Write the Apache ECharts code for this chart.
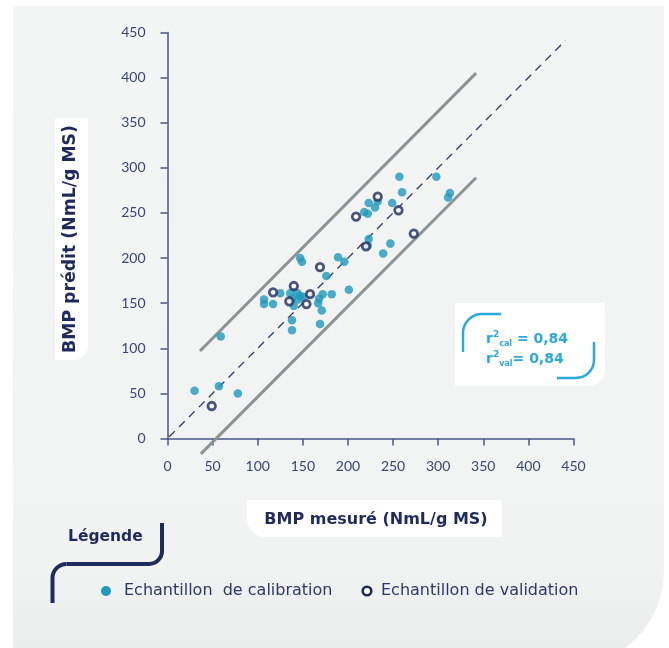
<!DOCTYPE html>
<html>
<head>
<meta charset="utf-8">
<script src="https://cdn.jsdelivr.net/npm/echarts@6/dist/echarts.min.js"></script>
<style>
  html, body { margin: 0; padding: 0; background: #ffffff; }
  #chart { width: 669px; height: 648px; }
</style>
</head>
<body>
<div id="chart"></div>
<script>
// Measured vs predicted BMP (NmL/g MS)
const calibration = [
  [30, 53], [57, 58], [78, 50], [59, 113],
  [107, 154], [107, 149], [117, 149], [125, 161],
  [138, 131], [138, 120], [147, 200], [149, 196],
  [136, 161], [144, 161], [145, 154], [140, 147],
  [150, 157], [147, 158], [138, 155],
  [168, 155], [167, 150], [172, 160], [182, 160], [201, 165],
  [171, 142], [169, 127], [176, 180], [189, 201], [196, 196],
  [257, 290], [298, 290], [260, 273], [313, 272], [311, 267],
  [223, 261], [233, 263], [230, 256], [249, 261],
  [218, 251], [222, 249], [223, 221], [222, 214],
  [247, 216], [239, 205]
];
const validation = [
  [49, 36], [117, 162], [140, 169], [135, 152], [158, 160],
  [154, 149], [169, 190], [233, 268], [209, 246], [256, 253],
  [220, 213], [273, 227]
];
// 1:1 reference and the two prediction-interval bounds
const identityLine = [[-53, -53], [441, 441]];
const upperBound = [[36, 97], [342, 405]];
const lowerBound = [[37, -17], [342, 289]];
const axisTicks = { min: 0, max: 450, step: 50 };

const labels = {
  xTitle: 'BMP mesuré (NmL/g MS)',
  yTitle: 'BMP prédit (NmL/g MS)',
  legendTitle: 'Légende',
  calib: 'Echantillon  de calibration',
  valid: 'Echantillon de validation',
  r2cal: '0,84',
  r2val: '0,84'
};

const NAVY = '#1f2b5e';
const AXIS = '#4a5686';
const TICK_TXT = '#3a4676';
const TEXT = '#2d3868';
const CYAN = '#1e98bd';
const BRIGHT = '#2aa9e0';
const FONT = '"DejaVu Sans", "Open Sans", sans-serif';
const TICK_FONT = 'Lato, "Open Sans", sans-serif';

function axisCommon(margin) {
  return {
    type: 'value',
    min: axisTicks.min,
    max: axisTicks.max,
    interval: axisTicks.step,
    axisLine: { show: true, lineStyle: { color: AXIS, width: 1.5 } },
    axisTick: { show: true, length: 7, lineStyle: { color: AXIS, width: 1.5 } },
    splitLine: { show: false },
    axisLabel: { color: TICK_TXT, fontSize: 14, fontFamily: TICK_FONT, margin: margin }
  };
}

// stroke helpers for the rounded bracket decorations
function seg(x1, y1, x2, y2, color, w) {
  return {
    type: 'line', z: 50, silent: true,
    shape: { x1: x1, y1: y1, x2: x2, y2: y2 },
    style: { stroke: color, lineWidth: w }
  };
}
function corner(cx, cy, r, a0, a1, color, w) {
  return {
    type: 'arc', z: 50, silent: true,
    shape: { cx: cx, cy: cy, r: r, startAngle: a0, endAngle: a1, clockwise: true },
    style: { stroke: color, lineWidth: w, fill: null }
  };
}
const PI = Math.PI;

function r2Text(y, sub, value, gap) {
  return {
    type: 'text', z: 50, silent: true, x: 486, y: y,
    style: {
      text: '{r|r}{sup|2}{sub|' + sub + '}{v|' + gap + '= ' + value + '}',
      textVerticalAlign: 'middle',
      rich: {
        r: { fill: BRIGHT, font: 'bold 14px ' + FONT },
        sup: { fill: BRIGHT, font: 'bold 9px ' + FONT, padding: [0, 0, 8, 0] },
        sub: { fill: BRIGHT, font: 'bold 8px ' + FONT, padding: [10, 0, 0, 0] },
        v: { fill: BRIGHT, font: 'bold 14px ' + FONT }
      }
    }
  };
}

const chart = echarts.init(document.getElementById('chart'), null, { renderer: 'canvas' });

chart.setOption({
  animation: false,
  backgroundColor: '#ffffff',
  grid: { left: 167.5, right: 95.5, top: 32.5, bottom: 209.5 },
  xAxis: axisCommon(21),
  yAxis: axisCommon(22),
  series: [
    {
      type: 'line', data: upperBound, symbol: 'none', clip: false, silent: true, z: 1,
      lineStyle: { color: '#8b9494', width: 3 }
    },
    {
      type: 'line', data: lowerBound, symbol: 'none', clip: false, silent: true, z: 1,
      lineStyle: { color: '#8b9494', width: 3 }
    },
    {
      type: 'line', data: identityLine, symbol: 'none', clip: false, silent: true, z: 1,
      lineStyle: { color: '#2b376a', width: 1.3, type: [8, 6] }
    },
    {
      name: labels.calib, type: 'scatter', data: calibration, symbolSize: 8.5, z: 3,
      itemStyle: { color: CYAN }
    },
    {
      name: labels.valid, type: 'scatter', data: validation, symbolSize: 7.5, z: 4,
      itemStyle: { color: '#ffffff', borderColor: NAVY, borderWidth: 2.8 }
    }
  ],
  graphic: [
    // card background
    {
      type: 'rect', z: -100, silent: true,
      shape: { x: 13, y: 6, width: 651, height: 660, r: [0, 0, 95, 0] },
      style: {
        fill: {
          type: 'linear', x: 0, y: 0, x2: 0, y2: 1,
          colorStops: [
            { offset: 0, color: '#f3f4f4' },
            { offset: 0.85, color: '#f1f2f2' },
            { offset: 1, color: '#e9ebeb' }
          ]
        }
      }
    },
    // y title box
    {
      type: 'rect', z: -50, silent: true,
      shape: { x: 55, y: 118, width: 33, height: 242, r: [0, 0, 14, 0] },
      style: { fill: '#ffffff' }
    },
    {
      type: 'text', z: 50, silent: true,
      x: 71, y: 239, rotation: PI / 2,
      style: {
        text: labels.yTitle, fill: NAVY, font: 'bold 17.3px ' + FONT,
        textAlign: 'center', textVerticalAlign: 'middle'
      }
    },
    // x title box
    {
      type: 'rect', z: -50, silent: true,
      shape: { x: 247, y: 500, width: 255, height: 37, r: [0, 0, 0, 18] },
      style: { fill: '#ffffff' }
    },
    {
      type: 'text', z: 50, silent: true,
      x: 376, y: 520,
      style: {
        text: labels.xTitle, fill: NAVY, font: 'bold 16px ' + FONT,
        textAlign: 'center', textVerticalAlign: 'middle'
      }
    },
    // r² box
    {
      type: 'rect', z: -50, silent: true,
      shape: { x: 455, y: 303, width: 150, height: 83, r: [0, 0, 16, 0] },
      style: { fill: '#ffffff' }
    },
    seg(463, 352, 463, 333, BRIGHT, 2.5),
    corner(482, 333, 19, PI, 1.5 * PI, BRIGHT, 2.5),
    seg(482, 314, 501, 314, BRIGHT, 2.5),
    seg(594, 342, 594, 360, BRIGHT, 2.5),
    corner(576, 360, 18, 0, 0.5 * PI, BRIGHT, 2.5),
    seg(576, 378, 557, 378, BRIGHT, 2.5),
    r2Text(339, 'cal', labels.r2cal, ' '),
    r2Text(359, 'val', labels.r2val, ''),
    // legend
    seg(52.5, 603, 52.5, 578, NAVY, 4),
    corner(66.5, 578, 14, PI, 1.5 * PI, NAVY, 4),
    seg(66.5, 564, 149, 564, NAVY, 4),
    corner(149, 551, 13, 0, 0.5 * PI, NAVY, 4),
    seg(162, 551, 162, 523, NAVY, 4),
    {
      type: 'text', z: 50, silent: true, x: 68, y: 537,
      style: {
        text: labels.legendTitle, fill: NAVY, font: 'bold 15.5px ' + FONT,
        textVerticalAlign: 'middle'
      }
    },
    {
      type: 'circle', z: 50, silent: true,
      shape: { cx: 106, cy: 591, r: 5 },
      style: { fill: CYAN }
    },
    {
      type: 'text', z: 50, silent: true, x: 124, y: 591,
      style: {
        text: labels.calib, fill: TEXT, font: '16px ' + FONT,
        textVerticalAlign: 'middle'
      }
    },
    {
      type: 'circle', z: 50, silent: true,
      shape: { cx: 367, cy: 591, r: 4.3 },
      style: { fill: '#ffffff', stroke: NAVY, lineWidth: 2.6 }
    },
    {
      type: 'text', z: 50, silent: true, x: 381, y: 591,
      style: {
        text: labels.valid, fill: TEXT, font: '16px ' + FONT,
        textVerticalAlign: 'middle'
      }
    }
  ]
});
</script>
</body>
</html>
